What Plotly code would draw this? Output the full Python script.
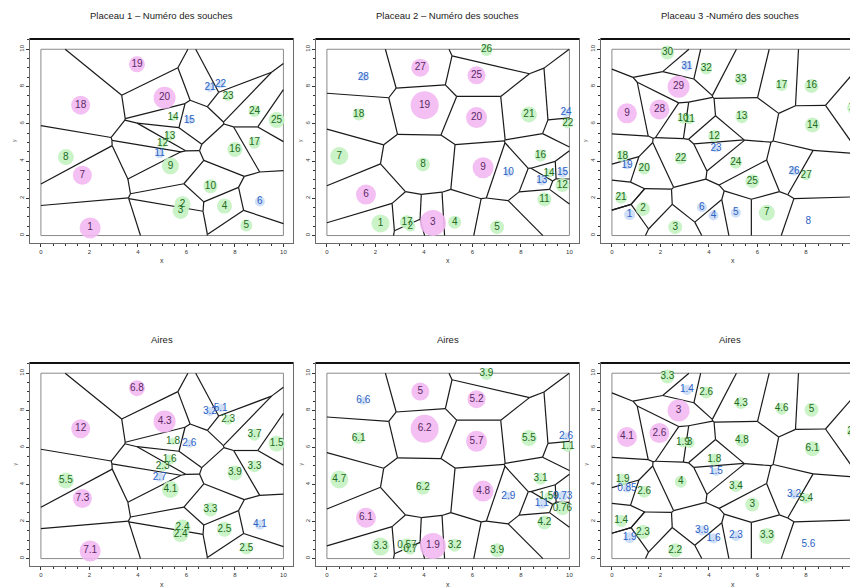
import numpy as np
import plotly.graph_objects as go

# ---- Placeau 1 ----
lab1 = [str(i) for i in range(1, 26)]
x1 = [2.03, 5.84, 5.76, 7.57, 8.47, 9.03, 1.71, 1.03, 5.34, 6.99, 4.90, 5.02, 5.31,
      5.45, 6.12, 8.00, 8.81, 1.64, 3.96, 5.10, 6.97, 7.41, 7.72, 8.81, 9.72]
y1 = [0.41, 1.68, 1.32, 1.58, 0.54, 1.83, 3.24, 4.21, 3.73, 2.65, 4.39, 4.95, 5.34,
      6.33, 6.20, 4.62, 4.98, 7.00, 9.19, 7.40, 7.94, 8.12, 7.49, 6.68, 6.20]
cat1 = ["p", "g", "g", "g", "g", "b", "p", "g", "g", "g", "b", "g", "g", "g", "b",
        "g", "g", "p", "p", "p", "b", "b", "g", "g", "g"]
size1 = [21, 16, 16, 15, 12, 10, 19, 16, 17, 14, 9, 9, 10, 7, 8, 15, 12, 19, 16, 22,
         9, 8, 10, 12, 16]
aire1 = ["7.1", "2.4", "2.4", "2.5", "2.5", "4.1", "7.3", "5.5", "4.1", "3.3", "2.7",
         "2.3", "1.6", "1.8", "2.6", "3.9", "3.3", "12", "6.8", "4.3", "3.2", "5.1",
         "2.3", "3.7", "1.5"]

# ---- Placeau 2 ----
lab2 = ["1", "2", "3", "4", "5", "6", "7", "8", "9", "10", "11", "12", "13", "14",
        "15", "16", "17", "18", "19", "20", "21", "22", "24", "25", "26", "27", "28"]
x2 = [2.21, 3.44, 4.37, 5.27, 7.02, 1.61, 0.51, 3.96, 6.44, 7.48, 8.97, 9.71, 8.86,
      9.16, 9.72, 8.81, 3.30, 1.31, 4.03, 6.17, 8.33, 9.93, 9.86, 6.17, 6.58, 3.85, 1.50]
y2 = [0.65, 0.48, 0.68, 0.72, 0.45, 2.20, 4.27, 3.82, 3.64, 3.37, 1.94, 2.71, 2.96,
      3.35, 3.37, 4.30, 0.72, 6.50, 7.00, 6.33, 6.50, 6.02, 6.59, 8.60, 9.96, 9.01, 8.51]
cat2 = ["g", "g", "p", "g", "g", "p", "g", "g", "p", "b", "g", "g", "b", "g", "b",
        "g", "g", "g", "p", "p", "g", "g", "b", "p", "g", "p", "b"]
size2 = [18, 10, 26, 13, 14, 20, 18, 14, 21, 8, 14, 14, 10, 9, 10, 12, 14, 12, 28, 21,
         16, 10, 8, 18, 12, 18, 8]
aire2 = ["3.3", "0.7", "1.9", "3.2", "3.9", "6.1", "4.7", "6.2", "4.8", "2.9", "4.2",
         "0.76", "1.1", "1.59", "0.73", "3.1", "0.57", "6.1", "6.2", "5.7", "5.5", "1.1",
         "2.6", "5.2", "3.9", "5", "6.6"]

# ---- Placeau 3 ----
lab3 = [str(i) for i in range(1, 34)]
x3 = [0.73, 1.28, 2.61, 4.19, 5.11, 3.71, 6.39, 8.10, 0.62, 2.93, 3.20, 4.22, 5.36,
      8.27, 9.99, 8.23, 7.00, 0.44, 0.62, 1.33, 0.38, 2.84, 4.29, 5.11, 5.79, 7.51,
      8.01, 1.96, 2.75, 2.29, 3.09, 3.89, 5.32]
y3 = [1.13, 1.43, 0.45, 1.08, 1.22, 1.52, 1.22, 0.77, 6.56, 6.27, 6.24, 5.34, 6.38,
      5.93, 6.86, 8.03, 8.08, 4.27, 3.78, 3.60, 2.03, 4.14, 4.68, 3.91, 2.92, 3.46,
      3.24, 6.77, 7.99, 9.82, 9.10, 8.96, 8.39]
cat3 = ["b", "g", "g", "b", "b", "b", "g", "b", "p", "g", "g", "g", "g", "g", "g", "g",
        "g", "g", "b", "g", "g", "g", "b", "g", "g", "b", "g", "p", "p", "g", "b", "g", "g"]
size3 = [11, 14, 14, 10, 10, 10, 16, 0, 20, 10, 10, 12, 13, 15, 14, 14, 12, 12, 8, 12,
         12, 12, 8, 12, 14, 9, 10, 20, 22, 14, 10, 12, 12]
aire3 = ["1.9", "2.3", "2.2", "1.6", "2.3", "3.9", "3.3", "5.6", "4.1", "1.9", "3",
         "1.8", "4.8", "6.1", "2.2", "5", "4.6", "1.9", "0.85", "2.6", "1.4", "4", "1.5",
         "3.4", "3", "3.2", "5.4", "2.6", "3", "3.3", "1.4", "2.6", "4.3"]

titres = ["Placeau 1 \u2013 Numéro des souches", "Placeau 2 \u2013 Numéro des souches",
          "Placeau 3 -Numéro des souches", "Aires", "Aires", "Aires"]

fill = {"p": "#f3b8f1", "g": "#c4f2c2", "b": "#cadcf6"}
ink = {"p": "#5a2a66", "g": "#1e6b1e", "b": "#2c62c4"}
FONT = "Liberation Sans, Arial, sans-serif"


def clip(poly, n, c):
    out = []
    m = len(poly)
    for k in range(m):
        a = poly[k]
        b = poly[(k + 1) % m]
        da = n @ a - c
        db = n @ b - c
        if da <= 0:
            out.append(a)
        if da * db < 0:
            t = da / (da - db)
            out.append(a + t * (b - a))
    return out


def voronoi_lines(xs, ys, lo=0.0, hi=10.0):
    """Voronoi edges clipped to the square window, as x/y lists with None gaps"""
    pts = np.column_stack([xs, ys]).astype(float)
    segs = set()
    eps = 1e-7
    for i, p in enumerate(pts):
        poly = [np.array(v, float) for v in [(lo, lo), (hi, lo), (hi, hi), (lo, hi)]]
        for j, q in enumerate(pts):
            if i == j:
                continue
            poly = clip(poly, q - p, (q @ q - p @ p) / 2)
            if not poly:
                break
        for k in range(len(poly)):
            u, v = poly[k], poly[(k + 1) % len(poly)]
            if np.hypot(*(u - v)) < 1e-6:
                continue
            same_side = any(abs(u[d] - b) < eps and abs(v[d] - b) < eps
                            for d in (0, 1) for b in (lo, hi))
            if same_side:
                continue
            key = tuple(sorted([(round(u[0], 4), round(u[1], 4)),
                                (round(v[0], 4), round(v[1], 4))]))
            segs.add(key)
    lx, ly = [], []
    for (a, b) in segs:
        lx += [a[0], b[0], None]
        ly += [a[1], b[1], None]
    return lx, ly


panels = [
    (x1, y1, lab1, cat1, size1), (x2, y2, lab2, cat2, size2), (x3, y3, lab3, cat3, size3),
    (x1, y1, aire1, cat1, size1), (x2, y2, aire2, cat2, size2), (x3, y3, aire3, cat3, size3),
]

# the page body keeps its default 8px margin, so the figure is drawn 8px in
OFF = 8
W, H = 858 - OFF, 587 - OFF
col_px = [(30, 293), (316, 579), (601, 858)]
row_px = [(39, 243), (363, 566)]
box_x = [0, 10, 10, 0, 0]
box_y = [0, 0, 10, 10, 0]

fig = go.Figure()
layout = dict(width=W, height=H, margin=dict(l=0, r=0, t=0, b=0, autoexpand=False),
              plot_bgcolor="white", paper_bgcolor="white", showlegend=False,
              font=dict(family=FONT))
shapes, annotations = [], []

for k, (xs, ys, txt, cats, sizes) in enumerate(panels):
    r, c = divmod(k, 3)
    n = k + 1
    xa = "x" if n == 1 else f"x{n}"
    ya = "y" if n == 1 else f"y{n}"
    left, right = [v - OFF for v in col_px[c]]
    top, bot = [v - OFF for v in row_px[r]]
    xmax = -0.45 + (right - left) / 24.25
    ph = bot - top
    pw = right - left

    lx, ly = voronoi_lines(xs, ys)
    fig.add_trace(go.Scatter(x=box_x, y=box_y, mode="lines", xaxis=xa, yaxis=ya,
                             line=dict(color="#8a8a8a", width=1), hoverinfo="skip"))
    fig.add_trace(go.Scatter(x=lx, y=ly, mode="lines", xaxis=xa, yaxis=ya,
                             line=dict(color="#1a1a1a", width=1.2), hoverinfo="skip"))
    fig.add_trace(go.Scatter(
        x=xs, y=ys, text=txt, mode="markers+text", xaxis=xa, yaxis=ya,
        textposition="middle center",
        marker=dict(size=sizes, color=[fill[t] for t in cats], opacity=0.9,
                    line=dict(width=0)),
        textfont=dict(size=10, color=[ink[t] for t in cats], family=FONT),
        cliponaxis=False,
    ))

    axis_common = dict(showgrid=False, zeroline=False, showline=True, mirror=True,
                       linecolor="#6a6a6a", linewidth=1, ticks="outside", ticklen=3,
                       tickcolor="#333", tickfont=dict(size=6, color="#333"),
                       automargin=False, ticklabeloverflow="allow",
                       minor=dict(ticks="outside", ticklen=2, dtick=0.5, tickcolor="#333"))
    layout["xaxis" if n == 1 else f"xaxis{n}"] = dict(
        axis_common, domain=[left / W, min(right / W, 1)], anchor=ya,
        range=[-0.45, xmax], tickvals=[0, 2, 4, 6, 8, 10])
    layout["yaxis" if n == 1 else f"yaxis{n}"] = dict(
        axis_common, domain=[1 - bot / H, 1 - top / H], anchor=xa, range=[-0.4, 10.55],
        tickvals=[0, 2, 4, 6, 8, 10], tickangle=-90)

    shapes.append(dict(type="line", xref=f"{xa} domain", yref=f"{ya} domain",
                       x0=0, x1=1, y0=1, y1=1, line=dict(color="#111", width=2)))
    annotations.append(dict(text=titres[k], xref=f"{xa} domain", yref=f"{ya} domain",
                            x=0.5, y=1 + 24 / ph, showarrow=False,
                            font=dict(size=9.5, color="#222"), xanchor="center",
                            yanchor="middle"))
    # axis titles
    annotations.append(dict(text="x", xref=f"{xa} domain", yref=f"{ya} domain",
                            x=(0.45 + 5) * 24.25 / pw, y=-18 / ph, showarrow=False,
                            font=dict(size=7, color="#333"), yanchor="middle"))
    annotations.append(dict(text="y", xref=f"{xa} domain", yref=f"{ya} domain",
                            x=-16 / pw, y=0.5, showarrow=False, textangle=-90,
                            font=dict(size=5, color="#555"), xanchor="center"))

layout["shapes"] = shapes
layout["annotations"] = annotations
fig.update_layout(**layout)
fig.write_html("out.html")
